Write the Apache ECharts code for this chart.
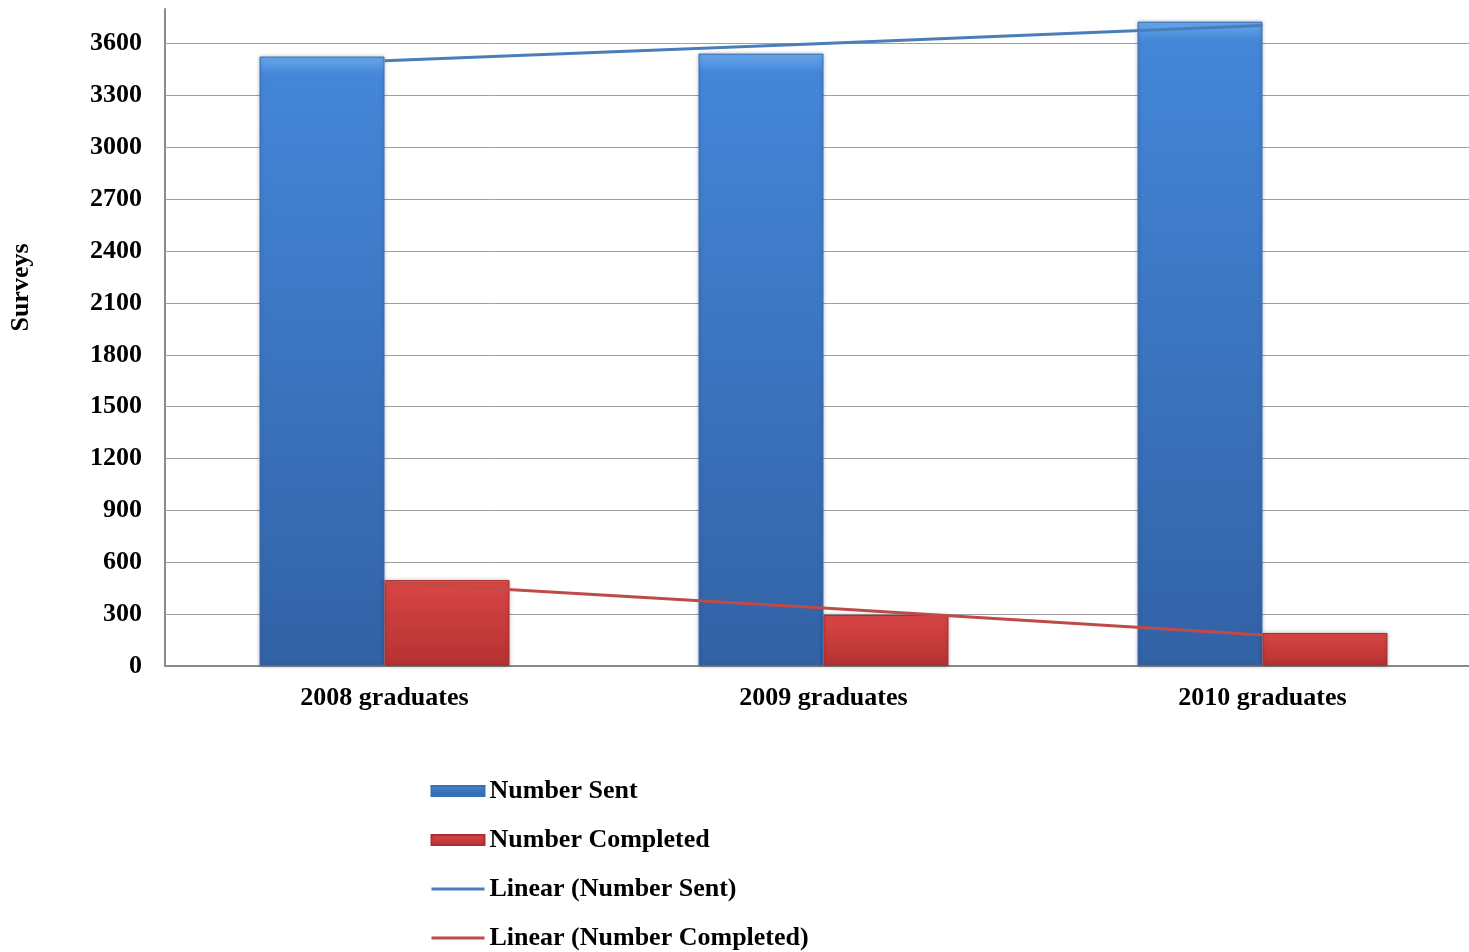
<!DOCTYPE html>
<html>
<head>
<meta charset="utf-8">
<script src="https://cdn.jsdelivr.net/npm/echarts@6/dist/echarts.min.js"></script>
<style>
    html, body { margin: 0; padding: 0; background: #fff; }
    #chart { width: 1469px; height: 952px; }
</style>
</head>
<body>
<div id="chart"></div>
<script>
    // 数据
    var categories = ['2008 graduates', '2009 graduates', '2010 graduates'];
    var numberSent = [3525, 3542, 3727];
    var numberCompleted = [497, 295, 191];
    // trend lines at each category centre
    var trendSent = [3500, 3600, 3705];
    var trendCompleted = [485, 335, 180];

    var font = '"Liberation Serif", "Times New Roman", serif';

    function barGradient(top, mid, bottom) {
        return new echarts.graphic.LinearGradient(0, 0, 0, 1, [
            {offset: 0, color: top},
            {offset: 0.03, color: mid},
            {offset: 1, color: bottom}
        ]);
    }

    var blueFill = barGradient('#6aa8ec', '#4486d8', '#3262a6');
    var redFill = barGradient('#ee7070', '#d94545', '#b53232');

    // 13 grid lines in grey, the extra one at the top hidden
    var splitColors = [];
    for (var i = 0; i < 13; i++) splitColors.push('#a0a0a0');
    splitColors.push('rgba(0,0,0,0)');

    var myChart = echarts.init(document.getElementById('chart'));

    var option = {
        animation: false,
        grid: {
            left: 165,
            right: -13,
            top: 9,
            bottom: 286,
            outerBoundsMode: 'none'
        },
        legend: {
            orient: 'vertical',
            left: 425,
            top: 773,
            height: 220,
            itemWidth: 53,
            itemHeight: 10,
            itemGap: 23,
            textStyle: {
                fontFamily: font,
                fontWeight: 'bold',
                fontSize: 26,
                color: '#000'
            },
            data: [
                {name: 'Number Sent', icon: 'rect'},
                {name: 'Number Completed', icon: 'rect'},
                {name: 'Linear (Number Sent)', itemStyle: {opacity: 0}, lineStyle: {width: 3}},
                {name: 'Linear (Number Completed)', itemStyle: {opacity: 0}, lineStyle: {width: 3}}
            ]
        },
        xAxis: {
            type: 'category',
            data: categories,
            axisTick: {show: false},
            axisLine: {lineStyle: {color: '#8a8a8a', width: 2}},
            axisLabel: {
                margin: 19,
                fontFamily: font,
                fontWeight: 'bold',
                fontSize: 26,
                color: '#000'
            }
        },
        yAxis: {
            type: 'value',
            min: 0,
            max: 3800,
            interval: 300,
            name: 'Surveys',
            nameLocation: 'middle',
            nameGap: 131,
            nameTextStyle: {
                fontFamily: font,
                fontWeight: 'bold',
                fontSize: 26,
                color: '#000',
                padding: [0, 0, 0, 100]
            },
            axisLine: {show: true, lineStyle: {color: '#8a8a8a', width: 2}},
            axisTick: {show: false},
            axisLabel: {
                margin: 23,
                showMaxLabel: false,
                fontFamily: font,
                fontWeight: 'bold',
                fontSize: 26,
                color: '#000',
                formatter: function (v) { return String(v); }
            },
            splitLine: {lineStyle: {color: splitColors, width: 1}}
        },
        series: [
            {
                name: 'Number Sent',
                type: 'bar',
                barWidth: 125,
                barGap: 0,
                itemStyle: {
                    color: blueFill,
                    borderColor: '#3a6fb5',
                    borderWidth: 1,
                    shadowColor: 'rgba(0,0,0,0.25)',
                    shadowBlur: 4
                },
                data: numberSent
            },
            {
                name: 'Number Completed',
                type: 'bar',
                barWidth: 125,
                barGap: 0,
                itemStyle: {
                    color: redFill,
                    borderColor: '#a83030',
                    borderWidth: 1,
                    shadowColor: 'rgba(0,0,0,0.25)',
                    shadowBlur: 4
                },
                data: numberCompleted
            },
            {
                name: 'Linear (Number Sent)',
                type: 'line',
                symbol: 'none',
                z: 5,
                lineStyle: {color: '#4a7ebb', width: 3},
                itemStyle: {color: '#4a7ebb'},
                data: trendSent
            },
            {
                name: 'Linear (Number Completed)',
                type: 'line',
                symbol: 'none',
                z: 5,
                lineStyle: {color: '#be4b48', width: 3},
                itemStyle: {color: '#be4b48'},
                data: trendCompleted
            }
        ]
    };

    myChart.setOption(option);
</script>
</body>
</html>
